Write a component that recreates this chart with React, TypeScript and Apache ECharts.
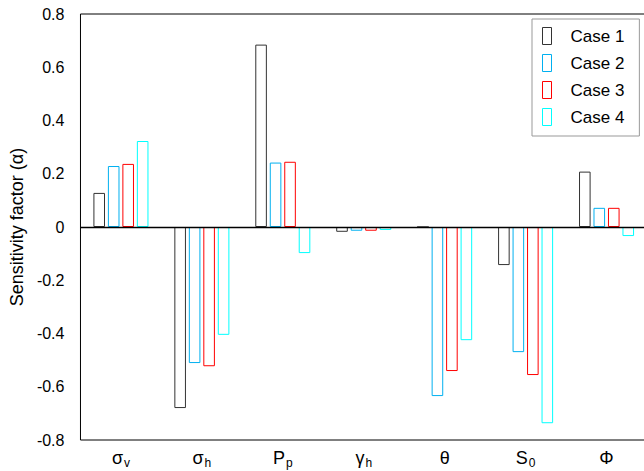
import React, { useEffect, useRef } from "react";
import * as echarts from "echarts";

const categories = ["sv", "sh", "Pp", "gh", "theta", "S0", "Phi"];
const categoryLabels = [
  "{m|σ}{s|v}",
  "{m|σ}{s|h}",
  "{m|P}{s|p}",
  "{m|γ}{s|h}",
  "{m|θ}",
  "{m|S}{s|0}",
  "{m|Φ}",
];
const seriesNames = ["Case 1", "Case 2", "Case 3", "Case 4"];
const case1 = [0.128, -0.68, 0.685, -0.018, 0, -0.143, 0.208];
const case2 = [0.229, -0.511, 0.242, -0.014, -0.635, -0.47, 0.072];
const case3 = [0.237, -0.523, 0.245, -0.014, -0.541, -0.556, 0.072];
const case4 = [0.323, -0.405, -0.098, -0.011, -0.425, -0.737, -0.034];
const seriesColors = ["#333333", "#00b0f0", "#ff0000", "#00ffff"];
const yTicks = { min: -0.8, max: 0.8, interval: 0.2 };

export default function App() {
  const ref = useRef<HTMLDivElement>(null);
  useEffect(() => {
    if (!ref.current) return;
    const chart = echarts.init(ref.current, undefined, { renderer: "svg" });
    const data = [case1, case2, case3, case4];
    const font = "Arial, 'Liberation Sans', Helvetica, sans-serif";
    chart.setOption({
      animation: false,
      textStyle: { fontFamily: font },
      grid: {
        left: 73,
        top: 14,
        width: 574,
        height: 426,
        show: true,
        borderColor: "#000",
        borderWidth: 1,
        backgroundColor: "transparent",
        containLabel: false,
      },
      legend: {
        orient: "vertical",
        left: 532,
        top: 19,
        padding: [8, 15, 10, 10],
        borderColor: "#999",
        borderWidth: 1,
        backgroundColor: "#fff",
        itemWidth: 9,
        itemHeight: 17,
        itemGap: 9,
        icon: "rect",
        itemStyle: { borderWidth: 1, color: "rgba(255,255,255,0)" },
        textStyle: {
          fontSize: 17,
          color: "#000",
          fontFamily: font,
          padding: [0, 0, 0, 14],
          lineHeight: 17,
        },
        data: seriesNames,
      },
      xAxis: {
        type: "category",
        data: categories,
        axisLine: { show: false, onZero: false },
        axisTick: { show: false },
        splitLine: { show: false },
        axisLabel: {
          margin: 8,
          formatter: (_v: string, i: number) => categoryLabels[i],
          rich: {
            m: { fontSize: 18, color: "#000", fontFamily: font, lineHeight: 20 },
            s: {
              fontSize: 12,
              color: "#000",
              fontFamily: font,
              padding: [10, 0, 0, 1],
              lineHeight: 20,
            },
          },
        },
      },
      yAxis: {
        type: "value",
        min: yTicks.min,
        max: yTicks.max,
        interval: yTicks.interval,
        name: "Sensitivity factor (α)",
        nameLocation: "middle",
        nameGap: 45,
        nameTextStyle: { fontSize: 18, color: "#000", fontFamily: font },
        axisLine: { show: false },
        axisTick: { show: false },
        splitLine: { show: false },
        axisLabel: {
          fontSize: 16,
          color: "#000",
          margin: 16,
          fontFamily: font,
          formatter: (v: number) => String(Math.round(v * 10) / 10),
        },
      },
      series: seriesNames.map((name, k) => ({
        name,
        type: "bar",
        data: data[k],
        barCategoryGap: "32%",
        barGap: "25%",
        itemStyle: {
          color: "rgba(255,255,255,0)",
          borderColor: seriesColors[k],
          borderWidth: 1,
        },
        emphasis: { disabled: true },
        markLine:
          k === 0
            ? {
                silent: true,
                symbol: "none",
                label: { show: false },
                lineStyle: { color: "#000", type: "solid", width: 1.3 },
                data: [{ yAxis: 0 }],
              }
            : undefined,
      })),
    });
    return () => chart.dispose();
  }, []);
  return (
    <div
      style={{
        position: "fixed",
        left: 0,
        top: 0,
        width: 644,
        height: 471,
        overflow: "hidden",
        background: "#fff",
      }}
    >
      <div ref={ref} style={{ width: 660, height: 471 }} />
    </div>
  );
}
